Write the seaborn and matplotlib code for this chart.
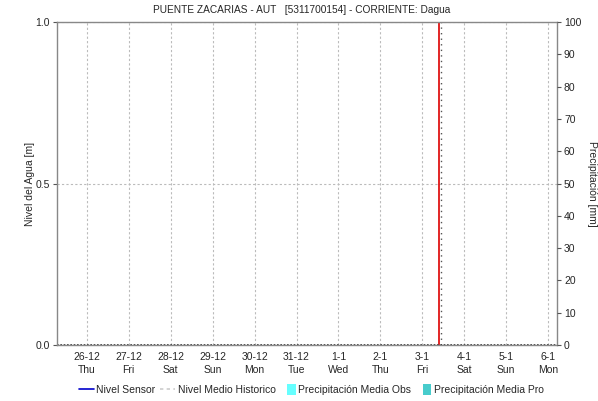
import matplotlib
matplotlib.use("Agg")
import matplotlib.pyplot as plt
import seaborn as sns
import pandas as pd
from matplotlib.lines import Line2D
from matplotlib.patches import Patch, Rectangle
from matplotlib.legend_handler import HandlerPatch

title = "PUENTE ZACARIAS - AUT   [5311700154] - CORRIENTE: Dagua"
day_labels = ["26-12", "27-12", "28-12", "29-12", "30-12", "31-12",
              "1-1", "2-1", "3-1", "4-1", "5-1", "6-1"]
weekdays = ["Thu", "Fri", "Sat", "Sun", "Mon", "Tue",
            "Wed", "Thu", "Fri", "Sat", "Sun", "Mon"]
day_pos = list(range(len(day_labels)))
x_start, x_end = -0.71, 11.21
now_pos = 8.40
level_ticks = [0.0, 0.5, 1.0]
precip_ticks = list(range(0, 101, 10))

sns.set_style("white")
plt.rcParams['font.family'] = ['Liberation Sans', 'DejaVu Sans']
FS = 7.5
plt.rcParams['font.size'] = FS

fig = plt.figure(figsize=(5.98, 4.01), dpi=100)
ax = fig.add_axes([57/598, 1-345/401, 500/598, 323/401])

now_df = pd.DataFrame({"x": [now_pos, now_pos], "y": [0.0, 1.0]})
sns.lineplot(data=now_df, x="x", y="y", ax=ax, color="#dd0000", lw=1.2,
             estimator=None, sort=False)
ax.axvline(now_pos + 0.035, color="#555555", lw=1.0, ls=(0, (1, 3)))
hist_df = pd.DataFrame({"x": [x_start, x_end], "y": [0.0, 0.0]})
sns.lineplot(data=hist_df, x="x", y="y", ax=ax, color="#333333", lw=1.2,
             ls=(0, (1, 1)), estimator=None, sort=False)

ax.set_xlim(x_start, x_end)
ax.set_ylim(0, 1)
ax.set_xticks(day_pos)
ax.set_xticklabels([f"{d}\n{w}" for d, w in zip(day_labels, weekdays)],
                   fontsize=FS, linespacing=1.35)
ax.set_yticks(level_ticks)
ax.set_yticklabels([f"{v:.1f}" for v in level_ticks], fontsize=FS)
ax.tick_params(axis="x", length=0, pad=5)
ax.tick_params(axis="y", length=3, width=0.8, color="#555555", pad=2, left=True)
ax.grid(True, color="#bbbbbb", ls=(0, (2, 2)), lw=0.8)
ax.set_axisbelow(True)
for s in ax.spines.values():
    s.set_color("#888888")
    s.set_linewidth(1.0)
ax.set_xlabel("")
ax.set_ylabel("Nivel del Agua [m]", fontsize=FS)
ax.yaxis.set_label_coords((35 - 57) / 500, 0.5)
ax.set_title("")
fig.text(302/598, 1 - 10/401, title, ha="center", va="center", fontsize=7.3)

ax2 = ax.twinx()
ax2.set_ylim(0, 100)
ax2.set_yticks(precip_ticks)
ax2.set_yticklabels([str(v) for v in precip_ticks], fontsize=FS)
ax2.tick_params(axis="y", length=3, width=0.8, color="#555555", pad=2, right=True)
for s in ax2.spines.values():
    s.set_visible(False)
ax2.set_ylabel("Precipitación [mm]", fontsize=FS, rotation=-90, va="center")
ax2.yaxis.set_label_coords((592 - 57) / 500, 0.5)


def narrow_patch(legend, orig_handle, xdescent, ydescent, width, height, fontsize):
    w = height * 1.05
    return Rectangle((width - w - xdescent, -ydescent - 1), w, height + 2)


handles = [
    Line2D([0], [0], color="#0000cc", lw=1.2),
    Line2D([0], [0], color="#cccccc", lw=1.2, ls=(0, (2, 2))),
    Patch(facecolor="#66ffff", edgecolor="none"),
    Patch(facecolor="#48cccc", edgecolor="none"),
]
labels = ["Nivel Sensor", "Nivel Medio Historico",
          "Precipitación Media Obs", "Precipitación Media Pro"]
fig.legend(handles, labels, loc="center", bbox_to_anchor=(311/598, 1-390/401),
           ncol=4, frameon=False, fontsize=FS, handlelength=1.45,
           handletextpad=0.25, columnspacing=0.45, handleheight=0.8,
           handler_map={Patch: HandlerPatch(patch_func=narrow_patch)})

fig.savefig("out.png", dpi=100)
